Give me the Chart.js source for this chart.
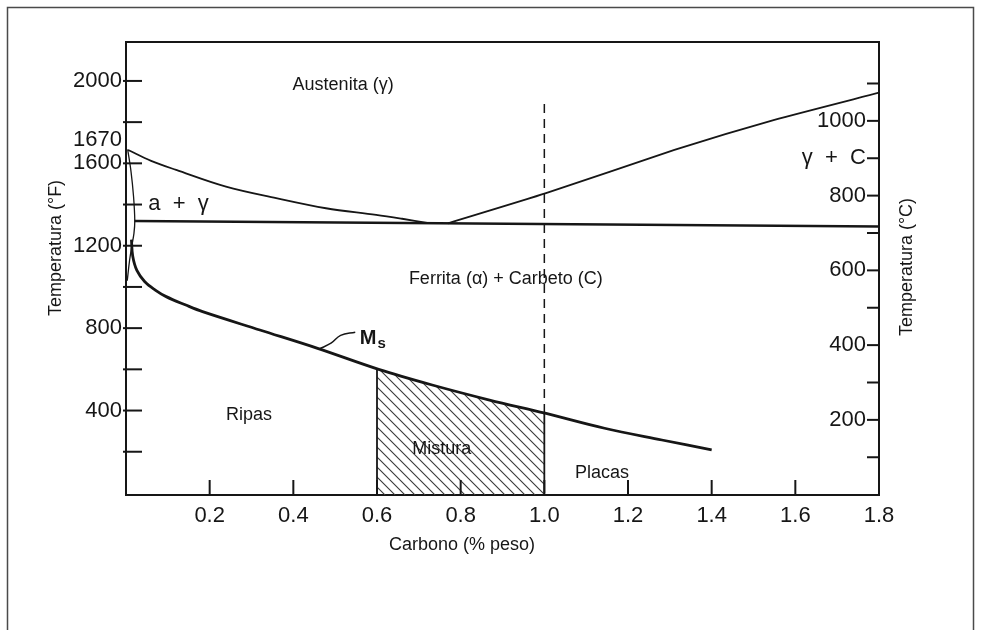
<!DOCTYPE html>
<html>
<head>
<meta charset="utf-8">
<script src="https://cdn.jsdelivr.net/npm/chart.js@4.4.0/dist/chart.umd.min.js"></script>
<style>
html,body{margin:0;padding:0;background:#fff;}
#wrap{position:relative;width:983px;height:630px;}
canvas{display:block;}
</style>
</head>
<body>
<div id="wrap"><canvas id="c" width="983" height="630"></canvas></div>
<script>
// ---------- data ----------
const carbonTicks = [0.2, 0.4, 0.6, 0.8, 1.0, 1.2, 1.4, 1.6, 1.8];
const fahrenheitTicks = [200, 400, 600, 800, 1000, 1200, 1400, 1600, 1800, 2000];
const fahrenheitLabels = [400, 800, 1200, 1600, 2000];
const celsiusTicks = [100, 200, 300, 400, 500, 600, 700, 800, 900, 1000, 1100];
const celsiusLabels = [200, 400, 600, 800, 1000];
const specialFahrenheit = 1670;

// [carbon %, temperature °F]
const a3Line = [[0.005,1665],[0.06,1612],[0.12,1568],[0.239,1487],[0.359,1431],[0.478,1382],[0.598,1350],[0.66,1331],[0.72,1311]];
const acmLine = [[0.77,1309],[1.004,1455],[1.311,1665],[1.55,1811],[1.8,1943]];
const a1Line = [[0.02,1320],[1.8,1293]];
const alphaLens = [[0.004,1668],[0.012,1560],[0.018,1440],[0.021,1320],[0.019,1260],[0.014,1200],[0.008,1120],[0.003,1030]];
const msLine = [[0.013,1230],[0.016,1150],[0.026,1080],[0.045,1025],[0.07,985],[0.096,953],[0.143,912],[0.183,880],[0.32,791],[0.458,702],[0.604,600],[0.732,524],[0.869,451],[1.002,387],[1.144,314],[1.281,257],[1.40,209]];
const misturaTop = [[0.6,602],[0.66,567],[0.732,524],[0.8,487],[0.869,451],[0.94,417],[1.0,388]];
const misturaLeftEdge = [[0.6,0],[0.6,602]];
const misturaRightEdge = [[1.0,0],[1.0,388]];
const dashedLine = [[1.0,388],[1.0,1895]];
const msLeader = [[0.462,699],[0.49,727],[0.513,765],[0.548,780]];

const regionNames = ['Austenita (γ)', 'Ferrita (α) + Carbeto (C)', 'Ripas', 'Mistura', 'Placas'];
const phaseNames = ['a  +  γ', 'γ  +  C'];
const axisTitles = ['Carbono (% peso)', 'Temperatura (°F)', 'Temperatura (°C)'];

// ---------- presentation ----------
const INK = '#161616';
const FONT = '"Liberation Sans", Arial, Helvetica, sans-serif';
const toXY = arr => arr.map(p => ({x: p[0], y: p[1]}));

function hatchPattern() {
  const s = 10;
  const cv = document.createElement('canvas');
  cv.width = s; cv.height = s;
  const g = cv.getContext('2d');
  g.strokeStyle = '#3a3a3a';
  g.lineWidth = 1.1;
  g.beginPath();
  g.moveTo(-1, -1); g.lineTo(s + 1, s + 1);
  g.moveTo(-1, s - 1); g.lineTo(1, s + 1);
  g.moveTo(s - 1, -1); g.lineTo(s + 1, 1);
  g.stroke();
  return g.createPattern(cv, 'repeat');
}

const lineDs = (data, width, extra) => Object.assign({
  data: toXY(data), showLine: true, borderColor: INK, borderWidth: width,
  pointRadius: 0, pointHoverRadius: 0, fill: false, tension: 0
}, extra || {});

// label placements (data coords on x / y axes)
const regionPos = [[0.519,1981],[0.908,1039],[0.294,379],[0.755,214],[1.138,97]];

const decorPlugin = {
  id: 'decor',
  beforeDraw(chart) {
    const ctx = chart.ctx;
    ctx.save();
    ctx.fillStyle = '#fff';
    ctx.fillRect(0, 0, chart.width, chart.height);
    ctx.strokeStyle = '#4a4a4a';
    ctx.lineWidth = 1.5;
    ctx.strokeRect(7.5, 7.5, 966, 700);
    ctx.restore();
  },
  afterDatasetsDraw(chart) {
    const {ctx, chartArea: {left, right, top, bottom}, scales: {x, y, y2}} = chart;
    ctx.save();
    ctx.strokeStyle = INK;
    ctx.lineWidth = 2;
    // top frame line
    ctx.beginPath(); ctx.moveTo(left, top); ctx.lineTo(right, top); ctx.stroke();
    // inward tick marks
    carbonTicks.forEach(v => {
      const px = x.getPixelForValue(v);
      ctx.beginPath(); ctx.moveTo(px, bottom); ctx.lineTo(px, bottom - 15); ctx.stroke();
    });
    fahrenheitTicks.forEach(v => {
      const py = y.getPixelForValue(v);
      ctx.beginPath(); ctx.moveTo(left - 3, py); ctx.lineTo(left + 16, py); ctx.stroke();
    });
    celsiusTicks.forEach(v => {
      const py = y2.getPixelForValue(v);
      ctx.beginPath(); ctx.moveTo(right - 12, py); ctx.lineTo(right, py); ctx.stroke();
    });

    ctx.fillStyle = INK;
    ctx.textBaseline = 'middle';
    // region labels
    ctx.font = '18px ' + FONT;
    ctx.textAlign = 'center';
    regionNames.forEach((t, i) => {
      ctx.fillText(t, x.getPixelForValue(regionPos[i][0]), y.getPixelForValue(regionPos[i][1]));
    });
    // phase labels
    ctx.font = '22px ' + FONT;
    ctx.textAlign = 'left';
    ctx.fillText(phaseNames[0], x.getPixelForValue(0.053), y.getPixelForValue(1403));
    ctx.textAlign = 'right';
    ctx.fillText(phaseNames[1], right - 13, y2.getPixelForValue(900));
    // 1670 label on the left axis
    ctx.fillText(String(specialFahrenheit), left - 4, y.getPixelForValue(specialFahrenheit) - 9);
    // Ms label
    ctx.textAlign = 'left';
    const mx = x.getPixelForValue(0.559), my = y.getPixelForValue(752);
    ctx.font = 'bold 20px ' + FONT;
    ctx.fillText('M', mx, my);
    const mw = ctx.measureText('M').width;
    ctx.font = 'bold 15px ' + FONT;
    ctx.fillText('s', mx + mw + 1, my + 6);

    // axis titles
    ctx.font = '18px ' + FONT;
    ctx.textAlign = 'center';
    ctx.fillText(axisTitles[0], 462, 545);
    ctx.save();
    ctx.translate(56, 248); ctx.rotate(-Math.PI / 2);
    ctx.fillText(axisTitles[1], 0, 0);
    ctx.restore();
    ctx.save();
    ctx.translate(907, 267); ctx.rotate(-Math.PI / 2);
    ctx.fillText(axisTitles[2], 0, 0);
    ctx.restore();
    ctx.restore();
  }
};

const tickFont = {family: FONT, size: 22};

new Chart(document.getElementById('c'), {
  type: 'scatter',
  data: {
    datasets: [
      lineDs(msLine, 2.8, {tension: 0.35}),
      lineDs(a3Line, 1.8, {tension: 0.35}),
      lineDs(acmLine, 1.8, {tension: 0.2}),
      lineDs(a1Line, 2.5),
      lineDs(alphaLens, 1.3, {tension: 0.35}),
      lineDs(misturaLeftEdge, 1.8),
      lineDs(misturaRightEdge, 1.8),
      lineDs(dashedLine, 1.5, {borderDash: [9, 6]}),
      lineDs(msLeader, 1.5, {tension: 0.4}),
      lineDs(misturaTop, 0, {fill: 'start', backgroundColor: hatchPattern(), order: 10})
    ]
  },
  plugins: [decorPlugin],
  options: {
    responsive: false,
    animation: false,
    events: [],
    layout: {padding: {top: 42, left: 0, right: 0, bottom: 0}},
    plugins: {legend: {display: false}, tooltip: {enabled: false}, title: {display: false}},
    scales: {
      x: {
        type: 'linear', position: 'bottom', min: 0, max: 1.8,
        afterBuildTicks: s => { s.ticks = carbonTicks.map(v => ({value: v})); },
        afterFit: s => { s.height = 135; },
        ticks: {font: tickFont, color: INK, padding: 8, maxRotation: 0, autoSkip: false,
                callback: v => Number(v).toFixed(1)},
        grid: {display: true, drawOnChartArea: false, drawTicks: false},
        border: {display: true, width: 2, color: INK},
        title: {display: false}
      },
      y: {
        type: 'linear', position: 'left', min: -10, max: 2189,
        afterBuildTicks: s => { s.ticks = fahrenheitTicks.map(v => ({value: v})); },
        afterFit: s => { s.width = 126; },
        ticks: {font: tickFont, color: INK, padding: 4, autoSkip: false,
                callback: v => fahrenheitLabels.includes(v) ? String(v) : ''},
        grid: {display: true, drawOnChartArea: false, drawTicks: false},
        border: {display: true, width: 2, color: INK},
        title: {display: false}
      },
      y2: {
        type: 'linear', position: 'right', min: -1, max: 1211,
        afterBuildTicks: s => { s.ticks = celsiusTicks.map(v => ({value: v})); },
        afterFit: s => { s.width = 104; },
        ticks: {font: tickFont, color: INK, padding: -13, mirror: true, autoSkip: false,
                callback: v => celsiusLabels.includes(v) ? String(v) : ''},
        grid: {display: true, drawOnChartArea: false, drawTicks: false},
        border: {display: true, width: 2, color: INK},
        title: {display: false}
      }
    }
  }
});
</script>
</body>
</html>
